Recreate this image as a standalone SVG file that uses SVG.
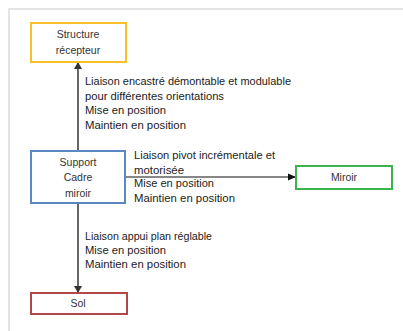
<svg xmlns="http://www.w3.org/2000/svg" width="403" height="331" viewBox="0 0 403 331">
<defs>
<style>
.frame{fill:#fff;stroke:#dcdcdc;stroke-width:1.5}
.box{fill:#fff;stroke-width:2}
.lbl{font-family:"Liberation Sans",Arial,sans-serif;font-size:10px;fill:#222}
.nl{font-family:"Liberation Sans",Arial,sans-serif;font-size:10.5px;fill:#333;text-anchor:middle}
.vline{stroke:#666;stroke-width:2;fill:none}
.hline{stroke:#111;stroke-width:1.2;fill:none}
</style>
<marker id="ahg" markerWidth="8" markerHeight="8" refX="6" refY="4" orient="auto" markerUnits="userSpaceOnUse">
<path d="M0,0 L7,4 L0,8 Z" fill="#333"/>
</marker>
<marker id="ahb" markerWidth="8" markerHeight="8" refX="7" refY="4" orient="auto" markerUnits="userSpaceOnUse">
<path d="M0,0.5 L8,4 L0,7.5 Z" fill="#111"/>
</marker>
</defs>
<rect x="0" y="0" width="403" height="331" fill="#fff"/>
<rect class="frame" x="9" y="9" width="400" height="330"/>
<g id="connectors">
<line class="vline" x1="78" y1="150" x2="78" y2="63" marker-end="url(#ahg)"/>
<line class="vline" x1="78" y1="204" x2="78" y2="292" marker-end="url(#ahg)"/>
<line class="hline" x1="126" y1="177" x2="295" y2="177" marker-end="url(#ahb)"/>
<g id="label-top">
<text class="lbl" x="85" y="85" textLength="206" lengthAdjust="spacingAndGlyphs">Liaison encastré démontable et modulable</text>
<text class="lbl" x="85" y="100" textLength="139" lengthAdjust="spacingAndGlyphs">pour différentes orientations</text>
<text class="lbl" x="85" y="114" textLength="81" lengthAdjust="spacingAndGlyphs">Mise en position</text>
<text class="lbl" x="85" y="129" textLength="101" lengthAdjust="spacingAndGlyphs">Maintien en position</text>
</g>
<g id="label-right">
<text class="lbl" x="134" y="159" textLength="141" lengthAdjust="spacingAndGlyphs">Liaison pivot incrémentale et</text>
<text class="lbl" x="134" y="174" textLength="50" lengthAdjust="spacingAndGlyphs">motorisée</text>
<text class="lbl" x="134" y="187" textLength="80" lengthAdjust="spacingAndGlyphs">Mise en position</text>
<text class="lbl" x="134" y="202" textLength="101" lengthAdjust="spacingAndGlyphs">Maintien en position</text>
</g>
<g id="label-bottom">
<text class="lbl" x="85" y="240" textLength="127" lengthAdjust="spacingAndGlyphs">Liaison appui plan réglable</text>
<text class="lbl" x="85" y="254" textLength="81" lengthAdjust="spacingAndGlyphs">Mise en position</text>
<text class="lbl" x="85" y="268" textLength="101" lengthAdjust="spacingAndGlyphs">Maintien en position</text>
</g>
</g>
<g id="structure">
<rect class="box" x="31" y="23" width="95" height="39" stroke="#f5c02a"/>
<text class="nl" x="78" y="38">Structure</text>
<text class="nl" x="78" y="54">récepteur</text>
</g>
<g id="support">
<rect class="box" x="31" y="151" width="94" height="52" stroke="#5b87c5"/>
<text class="nl" x="78" y="166">Support</text>
<text class="nl" x="78" y="181">Cadre</text>
<text class="nl" x="78" y="197">miroir</text>
</g>
<g id="miroir">
<rect class="box" x="296" y="166" width="96" height="23" stroke="#3cb44e"/>
<text class="nl" x="344" y="181">Miroir</text>
</g>
<g id="sol">
<rect class="box" x="31" y="293" width="96" height="21" stroke="#b04848"/>
<text class="nl" x="78" y="307">Sol</text>
</g>
</svg>
